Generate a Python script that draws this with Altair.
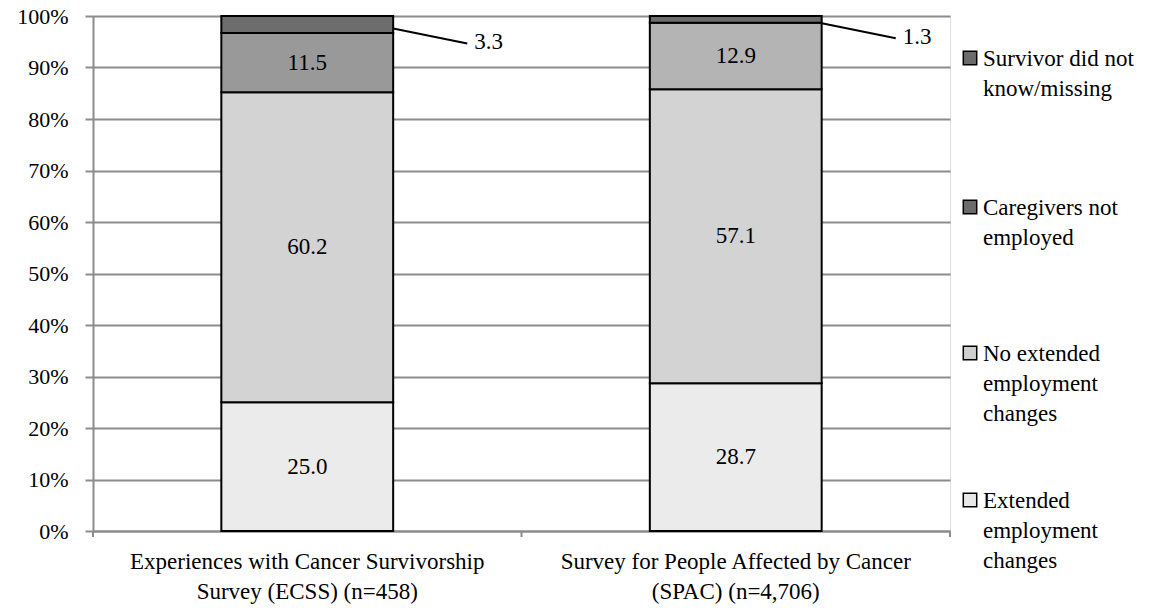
import altair as alt
import pandas as pd

# ---- data ----
surveys = [
    "Experiences with Cancer Survivorship|Survey (ECSS)  (n=458)",
    "Survey for People Affected by Cancer|(SPAC) (n=4,706)",
]
categories = [
    "Extended employment changes",
    "No extended employment changes",
    "Caregivers not employed",
    "Survivor did not know/missing",
]
ecss_values = [25.0, 60.2, 11.5, 3.3]
spac_values = [28.7, 57.1, 12.9, 1.3]

# ---- styles ----
ecss_fill = ["#ebebeb", "#d3d3d3", "#999999", "#6d6d6d"]
spac_fill = ["#ebebeb", "#d3d3d3", "#b4b4b4", "#6d6d6d"]
legend_fill = ["#6b6b6b", "#6b6b6b", "#cfcfcf", "#e8e8e8"]
legend_lines = [
    ["Survivor did not", "know/missing"],
    ["Caregivers not", "employed"],
    ["No extended", "employment", "changes"],
    ["Extended", "employment", "changes"],
]
FONT = "Liberation Serif, Times New Roman, serif"
FS = 23
GRID = "#8c8c8c"

rows = []
for s, vals, fills in [(surveys[0], ecss_values, ecss_fill), (surveys[1], spac_values, spac_fill)]:
    start = 0.0
    for c, v, f in zip(categories, vals, fills):
        rows.append(dict(survey=s, category=c, value=v, start=start, end=start + v,
                         mid=start + v / 2, label=f"{v:.1f}", color=f, small=v < 5))
        start += v
df = pd.DataFrame(rows)

W, H = 857, 515

xenc = alt.X(
    "survey:N", sort=surveys, title=None,
    scale=alt.Scale(paddingInner=0.599, paddingOuter=0.2995),
    axis=alt.Axis(labelAngle=0, labelExpr="split(datum.label, '|')", labelFont=FONT,
                  labelFontSize=FS, labelColor="black", labelLineHeight=30, labelLimit=0,
                  labelPadding=19, ticks=False, domainColor=GRID, domainWidth=2, grid=False),
)
yscale = alt.Scale(domain=[0, 100], nice=False)
yaxis = alt.Axis(values=list(range(0, 101, 10)), labelExpr="datum.value + '%'", title=None,
                 labelFont=FONT, labelFontSize=22, labelColor="black", labelPadding=17,
                 grid=True, gridColor=GRID, gridWidth=2, tickSize=8, tickColor=GRID,
                 tickWidth=2, domainColor=GRID, domainWidth=2)

base = alt.Chart(df)

bars = base.mark_bar(stroke="black", strokeWidth=2).encode(
    x=xenc,
    y=alt.Y("start:Q", scale=yscale, axis=yaxis),
    y2="end:Q",
    fill=alt.Fill("color:N", scale=None),
)

inside = base.transform_filter("!datum.small").mark_text(
    font=FONT, fontSize=FS, color="black", baseline="middle"
).encode(x=alt.X("survey:N", sort=surveys), y=alt.Y("mid:Q"), text="label:N")

leaders = base.transform_filter("datum.small").mark_rule(
    color="black", strokeWidth=2, xOffset=86, x2Offset=160, yOffset=4, y2Offset=19
).encode(x=alt.X("survey:N", sort=surveys), x2="survey:N", y="mid:Q", y2="mid:Q")

outside = base.transform_filter("datum.small").mark_text(
    font=FONT, fontSize=FS, color="black", align="left", baseline="middle",
    xOffset=167, yOffset=18
).encode(x=alt.X("survey:N", sort=surveys), y="mid:Q", text="label:N")

one = pd.DataFrame({"k": [0]})
tick_layers = [
    alt.Chart(one).mark_rule(color=GRID, strokeWidth=2).encode(
        x=alt.value(tx), y=alt.value(H), y2=alt.value(H + 6))
    for tx in (0, W / 2, W)
]

legend_layers = []
legend_y = [42, 191, 337, 484]
for lines, col, yy in zip(legend_lines, legend_fill, legend_y):
    legend_layers.append(
        alt.Chart(one).mark_square(size=180, fill=col, stroke="black", strokeWidth=1.5, opacity=1)
        .encode(x=alt.value(877), y=alt.value(yy))
    )
    legend_layers.append(
        alt.Chart(one).mark_text(font=FONT, fontSize=FS, color="black", align="left",
                                 baseline="top", lineHeight=30)
        .encode(x=alt.value(890), y=alt.value(yy - 10), text=alt.value(lines))
    )

chart = alt.layer(bars, inside, leaders, outside, *tick_layers, *legend_layers).properties(
    width=W, height=H,
    padding={"left": 85, "top": 8, "right": 190, "bottom": 80},
    autosize=alt.AutoSizeParams(type="none"),
).configure_view(stroke=None).configure(background="white")

chart.save("out.html", embed_options={"renderer": "svg", "actions": False})
